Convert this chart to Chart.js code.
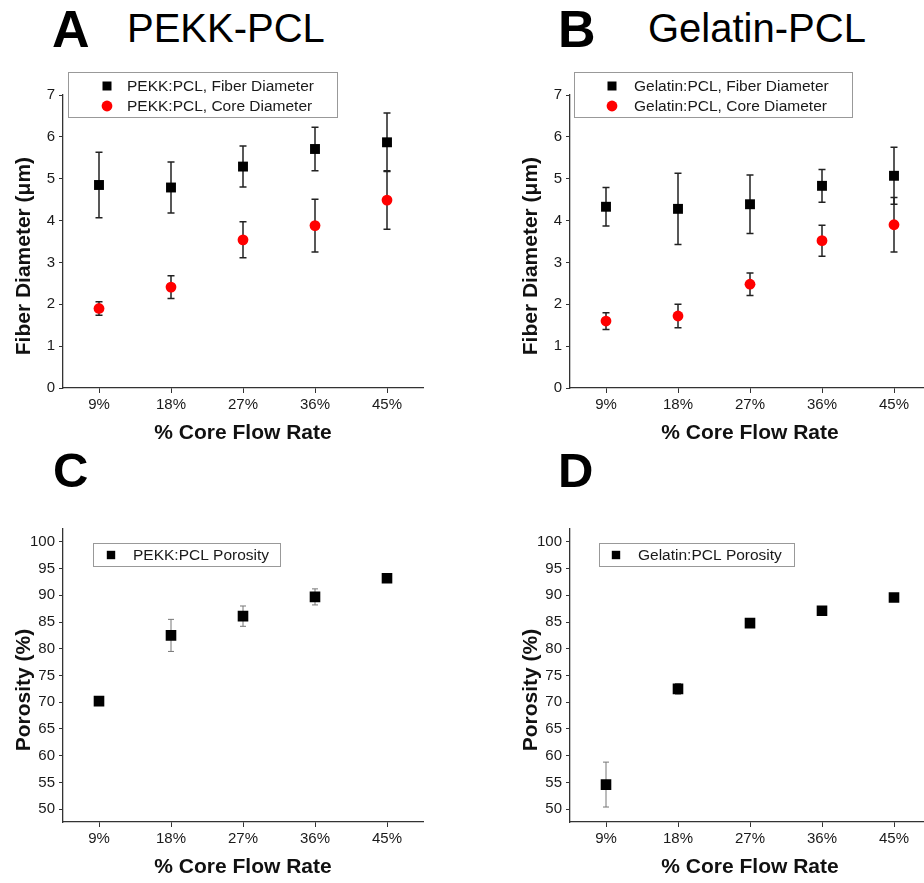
<!DOCTYPE html>
<html>
<head>
<meta charset="utf-8">
<script src="https://cdn.jsdelivr.net/npm/chart.js@4.4.1/dist/chart.umd.min.js"></script>
<style>
  html, body { margin: 0; padding: 0; background: #fff; overflow: hidden; }
  #page { position: relative; width: 924px; height: 883px; overflow: hidden; font-family: 'Liberation Sans', Arial, sans-serif; }
  canvas { position: absolute; }
  .letter { position: absolute; font-weight: bold; font-size: 52px; line-height: 52px; color: #000; }
  .name { position: absolute; font-size: 40px; line-height: 40px; color: #000; }
</style>
</head>
<body>
<div id="page">
  <div class="letter" style="left:52px; top:3px">A</div>
  <div class="name" style="left:127px; top:8px">PEKK-PCL</div>
  <div class="letter" style="left:558px; top:3px">B</div>
  <div class="name" style="left:648px; top:8px">Gelatin-PCL</div>
  <div class="letter" style="left:53px; top:446px; font-size:49px; line-height:49px">C</div>
  <div class="letter" style="left:558px; top:446px; font-size:49px; line-height:49px">D</div>
  <canvas id="chartA" width="462" height="390" style="left:0; top:60px"></canvas>
  <canvas id="chartB" width="462" height="390" style="left:507px; top:60px"></canvas>
  <canvas id="chartC" width="462" height="390" style="left:0; top:494px"></canvas>
  <canvas id="chartD" width="462" height="390" style="left:507px; top:494px"></canvas>
</div>
<script>
// Категории (скорость потока ядра)
const flowRates = ['9%', '18%', '27%', '36%', '45%'];

// A: PEKK-PCL, диаметры (мкм) и погрешности
const pekkFiber = [4.85, 4.79, 5.29, 5.71, 5.87];
const pekkFiberErr = [0.78, 0.61, 0.49, 0.52, 0.70];
const pekkCore = [1.90, 2.41, 3.54, 3.88, 4.49];
const pekkCoreErr = [0.16, 0.27, 0.43, 0.63, 0.70];

// B: Gelatin-PCL
const gelatinFiber = [4.33, 4.28, 4.39, 4.83, 5.07];
const gelatinFiberErr = [0.46, 0.85, 0.70, 0.39, 0.68];
const gelatinCore = [1.60, 1.72, 2.48, 3.52, 3.90];
const gelatinCoreErr = [0.20, 0.28, 0.27, 0.37, 0.65];

// C, D: пористость (%)
const pekkPorosity = [70.2, 82.5, 86.1, 89.7, 93.2];
const pekkPorosityErr = [0.5, 3.0, 1.9, 1.5, 0.4];
const gelatinPorosity = [54.6, 72.5, 84.8, 87.1, 89.6];
const gelatinPorosityErr = [4.2, 1.0, 0.3, 0.6, 0.3];

// Деления осей Y (подписи только у целых значений)
const diameterTicks = [0, 0.5, 1, 1.5, 2, 2.5, 3, 3.5, 4, 4.5, 5, 5.5, 6, 6.5, 7];
const porosityTicks = [50, 55, 60, 65, 70, 75, 80, 85, 90, 95, 100];

// Диапазоны осей Y
const diameterRange = { min: 0, max: 7, ticks: diameterTicks };
const porosityRange = { min: 47.6, max: 102.4, ticks: porosityTicks };

const axisColor = '#333';
const textColor = '#1a1a1a';
Chart.defaults.font.family = "'Liberation Sans', Arial, sans-serif";

// Планки погрешностей рисуем через шкалы графика
const errorBarPlugin = {
  id: 'errorBars',
  beforeDatasetsDraw(chart, args, opts) {
    const ctx = chart.ctx;
    const yScale = chart.scales.y;
    chart.data.datasets.forEach((ds, i) => {
      if (!ds.errors) return;
      const meta = chart.getDatasetMeta(i);
      ctx.save();
      ctx.strokeStyle = opts.color;
      ctx.lineWidth = opts.width;
      meta.data.forEach((pt, j) => {
        const v = ds.data[j];
        const e = ds.errors[j];
        const top = yScale.getPixelForValue(v + e);
        const bot = yScale.getPixelForValue(v - e);
        ctx.beginPath();
        ctx.moveTo(pt.x, top);
        ctx.lineTo(pt.x, bot);
        ctx.moveTo(pt.x - opts.cap, top);
        ctx.lineTo(pt.x + opts.cap, top);
        ctx.moveTo(pt.x - opts.cap, bot);
        ctx.lineTo(pt.x + opts.cap, bot);
        ctx.stroke();
      });
      ctx.restore();
    });
  },
};

// Легенда в рамке, как в оригинале
const boxLegendPlugin = {
  id: 'boxLegend',
  afterDraw(chart, args, opts) {
    const ctx = chart.ctx;
    ctx.save();
    ctx.fillStyle = '#fff';
    ctx.fillRect(opts.x, opts.y, opts.w, opts.h);
    ctx.strokeStyle = '#999';
    ctx.lineWidth = 1;
    ctx.strokeRect(opts.x + 0.5, opts.y + 0.5, opts.w, opts.h);
    ctx.font = opts.font;
    ctx.textBaseline = 'middle';
    chart.data.datasets.forEach((ds, i) => {
      const cy = opts.rowY[i];
      ctx.fillStyle = ds.backgroundColor;
      ctx.beginPath();
      if (ds.pointStyle === 'circle') {
        ctx.arc(opts.markerX, cy, opts.circleR, 0, Math.PI * 2);
      } else {
        ctx.rect(opts.markerX - opts.squareHalf, cy - opts.squareHalf, opts.squareHalf * 2, opts.squareHalf * 2);
      }
      ctx.fill();
      ctx.fillStyle = textColor;
      ctx.fillText(ds.label, opts.textX, cy + 1);
    });
    ctx.restore();
  },
};

function makeDataset(label, data, errors, style, radius) {
  const color = style === 'circle' ? '#ff0000' : '#000';
  return {
    label,
    data,
    errors,
    showLine: false,
    pointStyle: style,
    pointRadius: radius,
    backgroundColor: color,
    borderColor: color,
    pointBorderWidth: 0,
  };
}

function makeChart(id, datasets, range, yTitle, legendOpts, errOpts) {
  return new Chart(document.getElementById(id), {
    type: 'line',
    data: { labels: flowRates, datasets },
    options: {
      responsive: false,
      animation: false,
      events: [],
      layout: { padding: { top: 35, right: 39, bottom: 0, left: 0 } },
      plugins: {
        legend: { display: false },
        tooltip: { enabled: false },
        errorBars: errOpts,
        boxLegend: legendOpts,
      },
      scales: {
        x: {
          type: 'category',
          offset: true,
          grid: { display: true, drawOnChartArea: false, offset: false, tickLength: 5, color: axisColor },
          border: { color: axisColor, width: 1.3 },
          ticks: { color: textColor, font: { size: 15 }, padding: 3, maxRotation: 0, autoSkip: false },
          title: {
            display: true,
            text: '% Core Flow Rate',
            color: '#111',
            font: { size: 21, weight: 'bold' },
            padding: { top: 0, bottom: 4 },
          },
          afterFit: (scale) => { scale.height = 62; },
        },
        y: {
          min: range.min,
          max: range.max,
          grid: { display: true, drawOnChartArea: false, tickLength: 4, color: axisColor },
          border: { color: axisColor, width: 1.3 },
          ticks: {
            color: textColor,
            font: { size: 15 },
            padding: 4,
            callback: (v) => (Number.isInteger(v) ? v : ''),
          },
          afterBuildTicks: (scale) => {
            scale.ticks = range.ticks.map((v) => ({ value: v }));
          },
          title: {
            display: true,
            text: yTitle + '\u00a0\u00a0\u00a0\u00a0\u00a0',
            color: '#111',
            font: { size: 21, weight: 'bold' },
            padding: { top: 12, bottom: 0 },
          },
          afterFit: (scale) => { scale.width = 63; },
        },
      },
    },
    plugins: [errorBarPlugin, boxLegendPlugin],
  });
}

const diameterErr = { color: '#222', width: 1.5, cap: 3.5 };
const porosityErr = { color: '#777', width: 1, cap: 3 };
const legendFont = '15.5px "Liberation Sans", Arial';

makeChart('chartA', [
  makeDataset('PEKK:PCL, Fiber Diameter', pekkFiber, pekkFiberErr, 'rect', 7),
  makeDataset('PEKK:PCL, Core Diameter', pekkCore, pekkCoreErr, 'circle', 5.4),
], diameterRange, 'Fiber Diameter (\u03bcm)',
  { x: 68, y: 12, w: 269, h: 45, rowY: [26, 46], markerX: 107, textX: 127, font: legendFont, squareHalf: 4.5, circleR: 5.4 },
  diameterErr);

makeChart('chartB', [
  makeDataset('Gelatin:PCL, Fiber Diameter', gelatinFiber, gelatinFiberErr, 'rect', 7),
  makeDataset('Gelatin:PCL, Core Diameter', gelatinCore, gelatinCoreErr, 'circle', 5.4),
], diameterRange, 'Fiber Diameter (\u03bcm)',
  { x: 67, y: 12, w: 278, h: 45, rowY: [26, 46], markerX: 105, textX: 127, font: legendFont, squareHalf: 4.5, circleR: 5.4 },
  diameterErr);

makeChart('chartC', [
  makeDataset('PEKK:PCL Porosity', pekkPorosity, pekkPorosityErr, 'rect', 7.5),
], porosityRange, 'Porosity (%)',
  { x: 93, y: 49, w: 187, h: 23, rowY: [61], markerX: 111, textX: 133, font: legendFont, squareHalf: 4.2, circleR: 5 },
  porosityErr);

makeChart('chartD', [
  makeDataset('Gelatin:PCL Porosity', gelatinPorosity, gelatinPorosityErr, 'rect', 7.5),
], porosityRange, 'Porosity (%)',
  { x: 92, y: 49, w: 195, h: 23, rowY: [61], markerX: 109, textX: 131, font: legendFont, squareHalf: 4.2, circleR: 5 },
  porosityErr);
</script>
</body>
</html>
